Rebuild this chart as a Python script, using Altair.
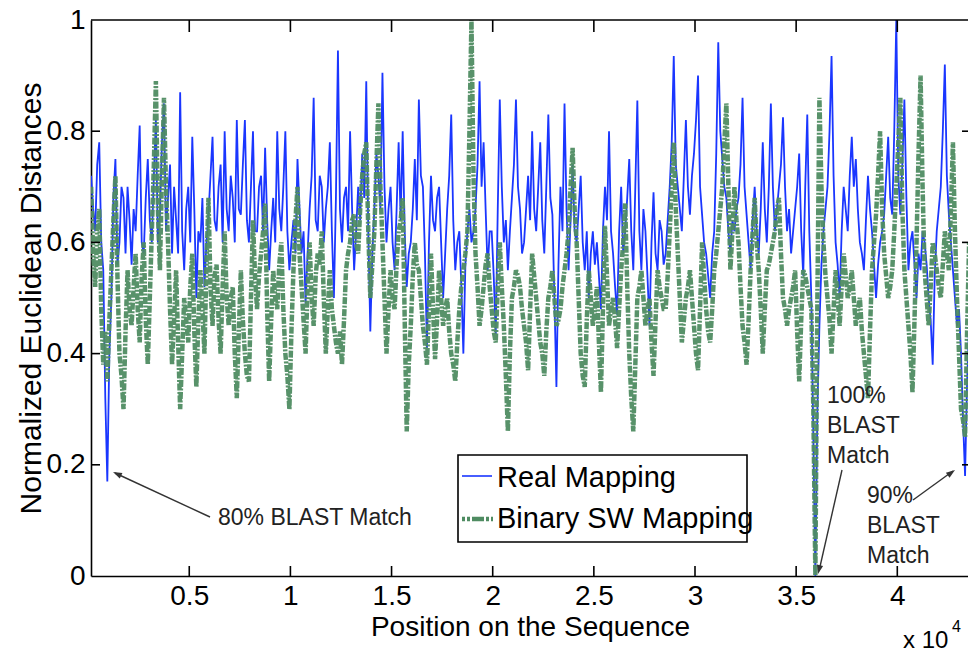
import altair as alt
import pandas as pd

# ---------------- data ----------------
x_start = 150          # position of first sample
x_step = 100           # spacing between samples

real_mapping = [
    0.72, 0.66, 0.62, 0.74, 0.78, 0.60, 0.55, 0.32,
    0.17, 0.40, 0.50, 0.68, 0.75, 0.56, 0.60, 0.70,
    0.68, 0.58, 0.70, 0.64, 0.56, 0.66, 0.62, 0.72,
    0.81, 0.60, 0.58, 0.68, 0.75, 0.64, 0.60, 0.72,
    0.82, 0.60, 0.65, 0.78, 0.85, 0.62, 0.68, 0.74,
    0.58, 0.70, 0.64, 0.58, 0.87, 0.62, 0.55, 0.66,
    0.70, 0.60, 0.79, 0.66, 0.50, 0.62, 0.60, 0.68,
    0.52, 0.60, 0.65, 0.72, 0.79, 0.64, 0.62, 0.70,
    0.74, 0.60, 0.80, 0.66, 0.62, 0.72, 0.68, 0.60,
    0.82, 0.66, 0.65, 0.74, 0.82, 0.64, 0.60, 0.70,
    0.80, 0.62, 0.62, 0.70, 0.72, 0.62, 0.77, 0.64,
    0.55, 0.62, 0.68, 0.60, 0.80, 0.66, 0.62, 0.70,
    0.80, 0.62, 0.55, 0.60, 0.64, 0.58, 0.75, 0.66,
    0.58, 0.62, 0.49, 0.58, 0.66, 0.72, 0.86, 0.64,
    0.62, 0.72, 0.70, 0.60, 0.66, 0.70, 0.78, 0.62,
    0.50, 0.68, 0.945, 0.66, 0.60, 0.68, 0.70, 0.62,
    0.80, 0.66, 0.55, 0.62, 0.70, 0.64, 0.76, 0.68,
    0.89, 0.62, 0.44, 0.58, 0.66, 0.76, 0.72, 0.66,
    0.905, 0.70, 0.60, 0.66, 0.70, 0.60, 0.55, 0.66,
    0.78, 0.64, 0.80, 0.62, 0.52, 0.58, 0.60, 0.66,
    0.75, 0.64, 0.857, 0.72, 0.70, 0.58, 0.41, 0.60,
    0.72, 0.64, 0.62, 0.68, 0.70, 0.60, 0.50, 0.58,
    0.66, 0.72, 0.83, 0.64, 0.55, 0.60, 0.62, 0.52,
    0.40, 0.56, 0.62, 0.66, 0.60, 0.62, 0.66, 0.74,
    0.89, 0.70, 0.78, 0.66, 0.55, 0.62, 0.62, 0.54,
    0.435, 0.66, 0.857, 0.70, 0.60, 0.64, 0.55, 0.62,
    0.68, 0.74, 0.857, 0.70, 0.66, 0.58, 0.60, 0.66,
    0.72, 0.64, 0.80, 0.66, 0.62, 0.70, 0.78, 0.64,
    0.58, 0.70, 0.83, 0.68, 0.65, 0.50, 0.34, 0.56,
    0.70, 0.62, 0.85, 0.66, 0.55, 0.64, 0.74, 0.62,
    0.60, 0.66, 0.72, 0.60, 0.55, 0.62, 0.50, 0.58,
    0.62, 0.56, 0.60, 0.54, 0.48, 0.62, 0.70, 0.64,
    0.80, 0.62, 0.58, 0.52, 0.47, 0.62, 0.70, 0.58,
    0.62, 0.68, 0.75, 0.62, 0.55, 0.70, 0.855, 0.62,
    0.55, 0.66, 0.62, 0.54, 0.45, 0.60, 0.69, 0.58,
    0.55, 0.64, 0.62, 0.56, 0.58, 0.64, 0.70, 0.78,
    0.935, 0.74, 0.70, 0.66, 0.62, 0.72, 0.82, 0.70,
    0.65, 0.72, 0.76, 0.82, 0.90, 0.70, 0.65, 0.60,
    0.58, 0.54, 0.50, 0.58, 0.62, 0.76, 0.96, 0.80,
    0.75, 0.70, 0.68, 0.62, 0.58, 0.64, 0.62, 0.66,
    0.68, 0.74, 0.86, 0.70, 0.65, 0.60, 0.55, 0.64,
    0.70, 0.62, 0.58, 0.66, 0.78, 0.66, 0.60, 0.70,
    0.85, 0.70, 0.62, 0.66, 0.70, 0.74, 0.825, 0.70,
    0.62, 0.66, 0.58, 0.62, 0.66, 0.70, 0.76, 0.62,
    0.54, 0.70, 0.83, 0.62, 0.50, 0.25, 0.0, 0.30,
    0.45, 0.56, 0.62, 0.66, 0.70, 0.80, 0.935, 0.72,
    0.60, 0.56, 0.50, 0.62, 0.70, 0.66, 0.62, 0.72,
    0.79, 0.70, 0.75, 0.66, 0.60, 0.58, 0.55, 0.64,
    0.72, 0.66, 0.62, 0.56, 0.50, 0.56, 0.60, 0.62,
    0.65, 0.72, 0.79, 0.68, 0.65, 0.80, 1.0, 0.72,
    0.65, 0.74, 0.857, 0.68, 0.55, 0.60, 0.62, 0.56,
    0.50, 0.58, 0.55, 0.62, 0.60, 0.56, 0.50, 0.46,
    0.38, 0.54, 0.62, 0.66, 0.70, 0.80, 0.92, 0.72,
    0.65, 0.60, 0.55, 0.50, 0.45, 0.48, 0.40, 0.28,
    0.18, 0.35, 0.45,
]

binary_sw_mapping = [
    0.70, 0.58, 0.52, 0.62, 0.66, 0.48, 0.38, 0.44,
    0.35, 0.46, 0.55, 0.64, 0.72, 0.54, 0.40, 0.36,
    0.30, 0.44, 0.55, 0.48, 0.45, 0.52, 0.58, 0.48,
    0.42, 0.54, 0.60, 0.46, 0.38, 0.50, 0.62, 0.74,
    0.89, 0.66, 0.55, 0.72, 0.86, 0.70, 0.60, 0.48,
    0.38, 0.46, 0.55, 0.42, 0.30, 0.40, 0.50, 0.46,
    0.42, 0.52, 0.58, 0.44, 0.34, 0.46, 0.55, 0.48,
    0.40, 0.56, 0.68, 0.52, 0.45, 0.54, 0.56, 0.46,
    0.40, 0.52, 0.62, 0.50, 0.45, 0.50, 0.52, 0.40,
    0.32, 0.44, 0.55, 0.46, 0.40, 0.36, 0.35, 0.50,
    0.64, 0.54, 0.48, 0.54, 0.58, 0.62, 0.67, 0.48,
    0.35, 0.46, 0.55, 0.50, 0.48, 0.56, 0.60, 0.48,
    0.40, 0.36, 0.30, 0.44, 0.55, 0.64, 0.70, 0.58,
    0.52, 0.46, 0.40, 0.52, 0.60, 0.50, 0.45, 0.54,
    0.58, 0.56, 0.62, 0.50, 0.40, 0.48, 0.55, 0.48,
    0.45, 0.42, 0.40, 0.44, 0.38, 0.46, 0.55, 0.58,
    0.60, 0.64, 0.65, 0.60, 0.58, 0.66, 0.72, 0.76,
    0.78, 0.62, 0.50, 0.56, 0.62, 0.74, 0.85, 0.70,
    0.60, 0.50, 0.40, 0.48, 0.55, 0.50, 0.48, 0.56,
    0.62, 0.64, 0.68, 0.46, 0.26, 0.38, 0.45, 0.54,
    0.60, 0.56, 0.55, 0.50, 0.45, 0.42, 0.38, 0.48,
    0.58, 0.48, 0.39, 0.46, 0.55, 0.50, 0.45, 0.48,
    0.50, 0.44, 0.40, 0.38, 0.35, 0.42, 0.48, 0.52,
    0.55, 0.58, 0.62, 0.80, 1.0, 0.72, 0.58, 0.52,
    0.45, 0.48, 0.52, 0.56, 0.58, 0.52, 0.48, 0.44,
    0.42, 0.52, 0.60, 0.52, 0.45, 0.36, 0.26, 0.40,
    0.50, 0.52, 0.55, 0.54, 0.52, 0.48, 0.45, 0.42,
    0.37, 0.48, 0.58, 0.54, 0.50, 0.46, 0.42, 0.40,
    0.36, 0.44, 0.50, 0.52, 0.55, 0.50, 0.45, 0.46,
    0.48, 0.52, 0.55, 0.58, 0.62, 0.70, 0.77, 0.66,
    0.60, 0.50, 0.40, 0.36, 0.34, 0.46, 0.55, 0.50,
    0.45, 0.48, 0.52, 0.42, 0.33, 0.48, 0.63, 0.54,
    0.45, 0.48, 0.50, 0.46, 0.41, 0.48, 0.55, 0.60,
    0.67, 0.52, 0.40, 0.32, 0.26, 0.38, 0.50, 0.52,
    0.55, 0.50, 0.45, 0.48, 0.50, 0.42, 0.36, 0.46,
    0.55, 0.52, 0.50, 0.48, 0.48, 0.54, 0.62, 0.70,
    0.78, 0.66, 0.58, 0.50, 0.42, 0.46, 0.50, 0.52,
    0.55, 0.50, 0.45, 0.40, 0.37, 0.48, 0.60, 0.54,
    0.48, 0.44, 0.42, 0.48, 0.55, 0.58, 0.62, 0.66,
    0.70, 0.78, 0.85, 0.70, 0.55, 0.62, 0.70, 0.64,
    0.60, 0.52, 0.45, 0.42, 0.38, 0.46, 0.55, 0.62,
    0.68, 0.60, 0.55, 0.48, 0.40, 0.48, 0.55, 0.56,
    0.58, 0.60, 0.62, 0.66, 0.68, 0.58, 0.50, 0.48,
    0.45, 0.48, 0.50, 0.52, 0.55, 0.44, 0.35, 0.46,
    0.55, 0.54, 0.52, 0.50, 0.48, 0.30, 0.0, 0.50,
    0.86, 0.70, 0.60, 0.54, 0.50, 0.46, 0.40, 0.48,
    0.55, 0.50, 0.45, 0.52, 0.58, 0.54, 0.50, 0.52,
    0.55, 0.50, 0.45, 0.48, 0.50, 0.44, 0.40, 0.36,
    0.32, 0.44, 0.55, 0.60, 0.65, 0.72, 0.80, 0.66,
    0.58, 0.54, 0.50, 0.52, 0.55, 0.62, 0.70, 0.78,
    0.86, 0.66, 0.55, 0.50, 0.45, 0.40, 0.33, 0.46,
    0.60, 0.76, 0.90, 0.70, 0.55, 0.50, 0.45, 0.52,
    0.60, 0.58, 0.55, 0.52, 0.50, 0.56, 0.62, 0.58,
    0.55, 0.66, 0.78, 0.62, 0.50, 0.40, 0.30, 0.28,
    0.25, 0.44, 0.60,
]

x_ticks = [5000, 10000, 15000, 20000, 25000, 30000, 35000, 40000]
y_ticks = [0, 0.2, 0.4, 0.6, 0.8, 1.0]
series_names = ["Real Mapping", "Binary SW Mapping"]
annotations = ["80% BLAST Match", "100%\nBLAST\nMatch", "90%\nBLAST\nMatch"]

# ---------------- build chart ----------------
n = min(len(real_mapping), len(binary_sw_mapping))
positions = [x_start + x_step * i for i in range(n)]
df = pd.DataFrame({"pos": positions,
                   "real": real_mapping[:n],
                   "binary": binary_sw_mapping[:n]})

W, H = 877, 556
FONT = "Liberation Sans"
BLUE = "#1a36ff"
GREEN = "#4f8c62"

xscale = alt.Scale(domain=[143, 43495], nice=False, zero=False)
yscale = alt.Scale(domain=[0, 1], nice=False, zero=False)
one = alt.Data(values=[{}])

x_axis = alt.Axis(values=x_ticks, labelExpr="'' + datum.value / 10000",
                  ticks=False, grid=False, domainColor="black",
                  domainWidth=1.6, labelFontSize=28, labelPadding=6,
                  labelColor="black", labelFont=FONT,
                  title="Position on the Sequence", titleFont=FONT,
                  titleFontSize=28, titleFontWeight="normal",
                  titleColor="black", titleX=439, titleY=59,
                  titleBaseline="alphabetic", titleAlign="center")
y_axis = alt.Axis(values=y_ticks, format="~g", ticks=False, grid=False,
                  domainColor="black", domainWidth=1.6,
                  labelFontSize=28, labelPadding=6, labelColor="black",
                  labelFont=FONT,
                  title="Normalized Euclidean Distances", titleFont=FONT,
                  titleFontSize=30, titleFontWeight="normal",
                  titleColor="black", titleX=-51, titleY=278,
                  titleAngle=270, titleBaseline="alphabetic",
                  titleAlign="center")

blue = alt.Chart(df).mark_line(color=BLUE, strokeWidth=1.8, clip=True).encode(
    x=alt.X("pos:Q", scale=xscale, axis=x_axis),
    y=alt.Y("real:Q", scale=yscale, axis=y_axis),
)

green = alt.Chart(df).mark_line(color=GREEN, strokeWidth=4.5,
                                strokeDash=[7, 1.5, 2, 1.5],
                                clip=True, opacity=0.95).encode(
    x=alt.X("pos:Q", scale=xscale, axis=x_axis),
    y=alt.Y("binary:Q", scale=yscale, axis=y_axis),
)

xt = pd.DataFrame({"pos": x_ticks})
yt = pd.DataFrame({"real": y_ticks[1:-1]})
tick_style = dict(color="black", strokeWidth=1.6)
ticks_bottom = alt.Chart(xt).mark_rule(**tick_style).encode(
    x=alt.X("pos:Q", scale=xscale, axis=x_axis), y=alt.value(H), y2=alt.value(H - 10))
ticks_top = alt.Chart(xt).mark_rule(**tick_style).encode(
    x=alt.X("pos:Q", scale=xscale, axis=x_axis), y=alt.value(0), y2=alt.value(12))
ticks_left = alt.Chart(yt).mark_rule(**tick_style).encode(
    y=alt.Y("real:Q", scale=yscale, axis=y_axis), x=alt.value(0), x2=alt.value(9))
ticks_right = alt.Chart(yt).mark_rule(**tick_style).encode(
    y=alt.Y("real:Q", scale=yscale, axis=y_axis), x=alt.value(W - 6), x2=alt.value(W))
top_border = alt.Chart(one).mark_rule(color="black", strokeWidth=1.6).encode(
    x=alt.value(0), x2=alt.value(W), y=alt.value(0))

# legend (drawn manually, matlab-style box)
leg_box = alt.Chart(one).mark_rect(fill="white", stroke="black", strokeWidth=1.6).encode(
    x=alt.value(367), x2=alt.value(656), y=alt.value(435), y2=alt.value(522))
leg_blue = alt.Chart(one).mark_rule(color=BLUE, strokeWidth=1.6).encode(
    x=alt.value(371), x2=alt.value(401), y=alt.value(456))
leg_green = alt.Chart(one).mark_rule(color=GREEN, strokeWidth=4.5,
                                     strokeDash=[3, 2, 3, 2, 12, 2]).encode(
    x=alt.value(371), x2=alt.value(402), y=alt.value(499))
leg_t1 = alt.Chart(one).mark_text(align="left", baseline="alphabetic", font=FONT,
                                  fontSize=29, color="black").encode(
    x=alt.value(406), y=alt.value(467), text=alt.value(series_names[0]))
leg_t2 = alt.Chart(one).mark_text(align="left", baseline="alphabetic", font=FONT,
                                  fontSize=29, color="black").encode(
    x=alt.value(406), y=alt.value(508), text=alt.value(series_names[1]))

# annotations
ann_style = dict(align="left", baseline="alphabetic", font=FONT, fontSize=23,
                 color="#222222", lineBreak="\n", lineHeight=30)
ann1 = alt.Chart(one).mark_text(**ann_style).encode(
    x=alt.value(127), y=alt.value(505), text=alt.value(annotations[0]))
ann2 = alt.Chart(one).mark_text(**ann_style).encode(
    x=alt.value(736), y=alt.value(383), text=alt.value(annotations[1]))
ann3 = alt.Chart(one).mark_text(**ann_style).encode(
    x=alt.value(776), y=alt.value(483), text=alt.value(annotations[2]))

arrow_style = dict(color="#333333", strokeWidth=1.4)
arr1 = alt.Chart(one).mark_rule(**arrow_style).encode(
    x=alt.value(119), y=alt.value(497), x2=alt.value(24), y2=alt.value(453))
arr2 = alt.Chart(one).mark_rule(**arrow_style).encode(
    x=alt.value(751), y=alt.value(450), x2=alt.value(728), y2=alt.value(551))
arr3 = alt.Chart(one).mark_rule(**arrow_style).encode(
    x=alt.value(822), y=alt.value(480), x2=alt.value(862), y2=alt.value(451))

HEAD = "M 0 0 L 0.35 1 L -0.35 1 Z"
def head(px, py, ang):
    return alt.Chart(one).mark_point(shape=HEAD, filled=True, size=320,
                                     color="#333333", opacity=1,
                                     angle=ang).encode(
        x=alt.value(px), y=alt.value(py))

h1 = head(22, 452, 294.9)
h2 = head(727, 554, 193)
h3 = head(864, 450, 54.5)

x10 = alt.Chart(one).mark_text(align="left", baseline="alphabetic", font=FONT,
                               fontSize=24, color="black").encode(
    x=alt.value(812), y=alt.value(628), text=alt.value("x 10"))
x10e = alt.Chart(one).mark_text(align="left", baseline="alphabetic", font=FONT,
                                fontSize=16, color="black").encode(
    x=alt.value(861), y=alt.value(612), text=alt.value("4"))

chart = alt.layer(
    blue, green, ticks_bottom, ticks_top, ticks_left, ticks_right, top_border,
    leg_box, leg_blue, leg_green, leg_t1, leg_t2,
    ann1, ann2, ann3, arr1, arr2, arr3, h1, h2, h3, x10, x10e,
).properties(
    width=W, height=H,
    autosize=alt.AutoSizeParams(type="none"),
    padding={"left": 91, "top": 20, "right": 0, "bottom": 80},
    background="white",
).configure_view(stroke=None)

chart.save("out.html", embed_options={"renderer": "svg", "actions": False})
